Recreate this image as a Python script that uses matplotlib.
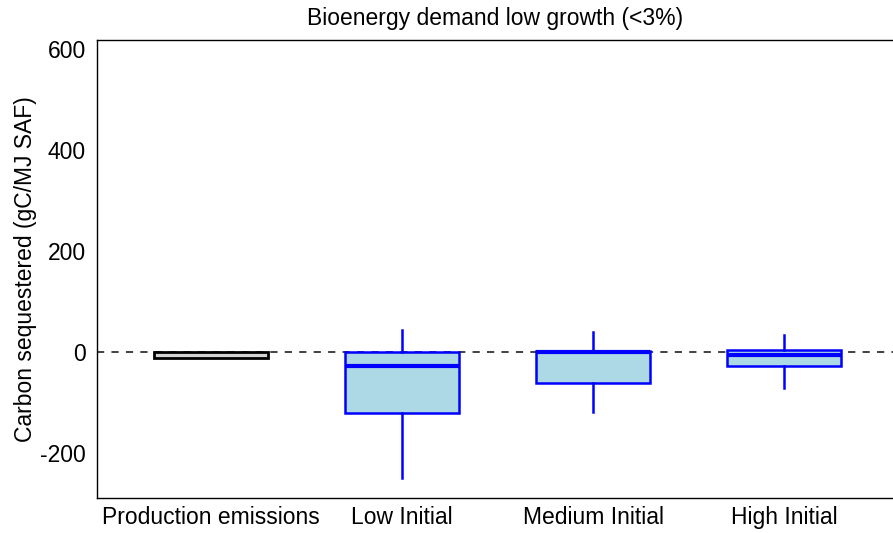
import matplotlib
matplotlib.use("Agg")
import matplotlib.pyplot as plt

plt.rcParams["font.family"] = ["Liberation Sans", "DejaVu Sans"]

# valores (gC/MJ SAF)
categorias = ["Production emissions", "Low Initial", "Medium Initial", "High Initial"]
produccion = -12
medianas = [-28, 0, -6]
q1 = [-121, -61, -28]
q3 = [0, 2, 4]
bigote_inf = [-250, -119, -71]
bigote_sup = [44, 40, 34]

stats = []
for i in range(3):
    stats.append(dict(med=medianas[i], q1=q1[i], q3=q3[i],
                      whislo=bigote_inf[i], whishi=bigote_sup[i], fliers=[]))

fig = plt.figure(figsize=(8.93, 5.33), dpi=100)
ax = fig.add_axes([97 / 893, 35 / 533, (893 - 97) / 893, 458 / 533])

ax.axhline(0, color="#333333", ls=(0, (4, 4)), lw=1.3, zorder=0)

ax.bar(1, produccion, width=0.6, color="#d3d3d3", edgecolor="black", lw=2, zorder=2)

azul = "#0000ff"
ax.bxp(stats, positions=[2, 3, 4], widths=0.6, patch_artist=True, showcaps=False,
       boxprops=dict(facecolor="#add8e6", edgecolor=azul, lw=1.8),
       medianprops=dict(color=azul, lw=3),
       whiskerprops=dict(color=azul, lw=1.8), zorder=3)

ax.set_xlim(0.403, 4.57)
ax.set_ylim(-289, 618)
ax.set_xticks([1, 2, 3, 4])
ax.set_xticklabels(categorias, va="baseline")
ax.set_yticks([-200, 0, 200, 400, 600])
ax.set_yticklabels(["-200", "0", "200", "400", "600"])
ax.tick_params(length=0, labelsize=16.5)
ax.tick_params(axis="y", pad=8)
ax.tick_params(axis="x", pad=19)
ax.spines["right"].set_visible(False)
for s in ["left", "top", "bottom"]:
    ax.spines[s].set_linewidth(1.0)
ax.set_ylabel("Carbon sequestered (gC/MJ SAF)", fontsize=16.5, labelpad=2)
ax.set_title("Bioenergy demand low growth (<3%)", fontsize=16.5, pad=11)

fig.savefig("out.png", dpi=100)
